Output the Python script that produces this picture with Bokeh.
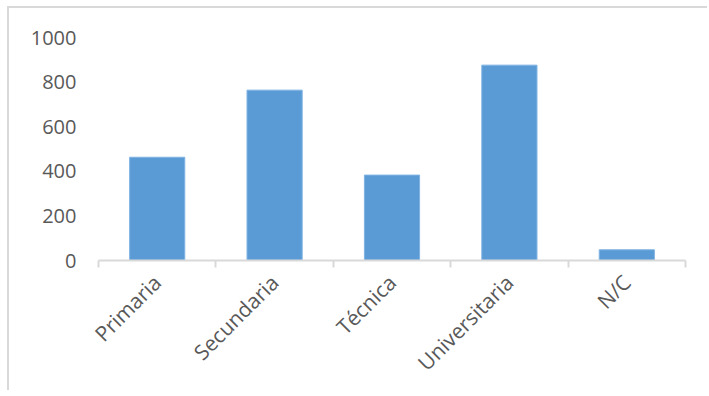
import math
from bokeh.plotting import figure
from bokeh.models import FixedTicker, Range1d, ColumnDataSource
from bokeh.embed import file_html
from bokeh.resources import INLINE

categories = ["Primaria", "Secundaria", "Técnica", "Universitaria", "N/C"]
values = [463, 764, 383, 876, 48]
y_ticks = [0, 200, 400, 600, 800, 1000]

xs = [i + 0.5 for i in range(len(categories))]
src = ColumnDataSource(dict(x=xs, top=values, cat=categories))

p = figure(width=700, height=384, output_backend="svg", toolbar_location=None,
           x_range=Range1d(0, len(categories)), y_range=Range1d(0, 1000),
           min_border_left=89, min_border_right=24, min_border_top=29, min_border_bottom=132)
p.styles = {"border-left": "2px solid #d9d9d9", "border-top": "2px solid #d9d9d9",
            "box-sizing": "border-box", "margin-left": "7px", "margin-top": "6px"}

p.vbar(x="x", top="top", width=0.47, bottom=0, source=src,
       fill_color="#5B9BD5", line_color="#7fb3e3", line_width=1)

p.grid.visible = False
p.outline_line_color = None
p.background_fill_color = "white"
p.border_fill_color = "white"

xa = p.xaxis[0]
xa.ticker = FixedTicker(ticks=xs, minor_ticks=list(range(len(categories) + 1)))
xa.major_label_overrides = {x: c for x, c in zip(xs, categories)}
xa.major_label_orientation = math.pi / 4
xa.major_tick_line_color = None
xa.major_tick_out = 0
xa.major_tick_in = 0
xa.minor_tick_line_color = "#d9d9d9"
xa.minor_tick_line_width = 2
xa.minor_tick_out = 7
xa.minor_tick_in = 0
xa.axis_line_color = "#d9d9d9"
xa.axis_line_width = 2
xa.major_label_text_font = "Open Sans"
xa.major_label_text_font_size = "21px"
xa.major_label_text_color = "#595959"
xa.major_label_standoff = 11

ya = p.yaxis[0]
ya.ticker = FixedTicker(ticks=y_ticks)
ya.axis_line_color = None
ya.major_tick_line_color = None
ya.minor_tick_line_color = None
ya.major_tick_out = 0
ya.major_tick_in = 0
ya.major_label_text_font = "Open Sans"
ya.major_label_text_font_size = "20px"
ya.major_label_text_color = "#595959"
ya.major_label_standoff = 22

open("out.html", "w").write(file_html(p, INLINE))
